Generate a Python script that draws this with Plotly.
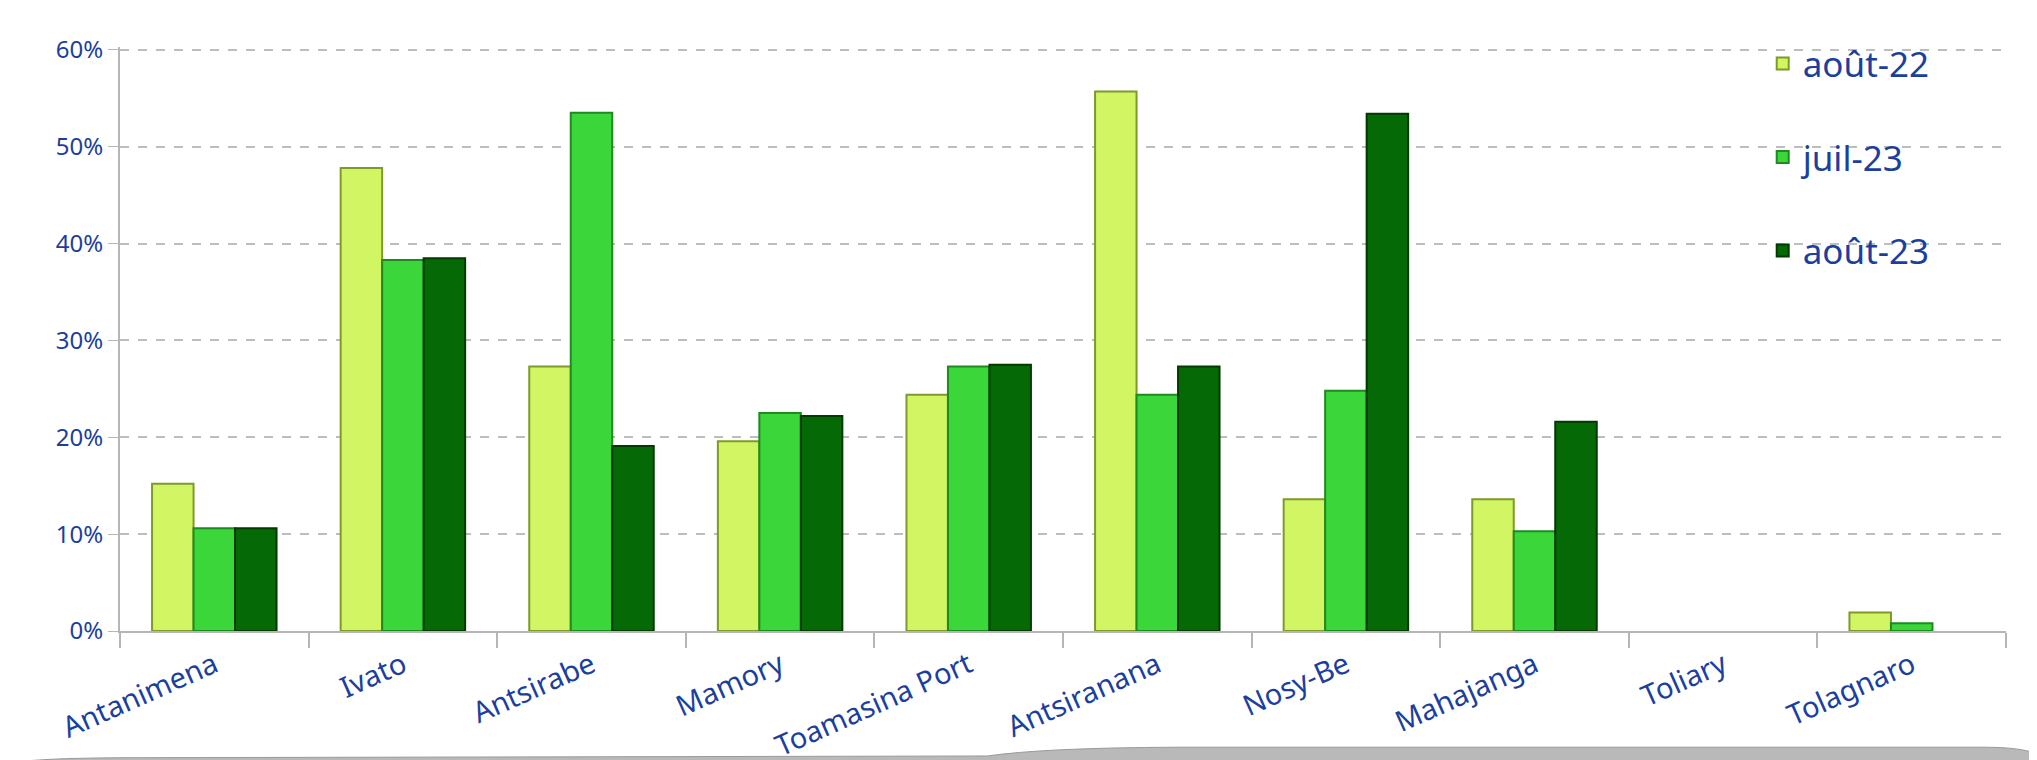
import plotly.graph_objects as go

categories = ["Antanimena", "Ivato", "Antsirabe", "Mamory", "Toamasina Port",
              "Antsiranana", "Nosy-Be", "Mahajanga", "Toliary", "Tolagnaro"]
aout22 = [0.152, 0.478, 0.273, 0.196, 0.244, 0.557, 0.136, 0.136, None, 0.019]
juil23 = [0.106, 0.383, 0.535, 0.225, 0.273, 0.244, 0.248, 0.103, None, 0.008]
aout23 = [0.106, 0.385, 0.191, 0.222, 0.275, 0.273, 0.534, 0.216, None, None]
series_names = ["août-22", "juil-23", "août-23"]
tick_vals = [0, 0.1, 0.2, 0.3, 0.4, 0.5, 0.6]
tick_text = ["0%", "10%", "20%", "30%", "40%", "50%", "60%"]

fills = ["#d2f564", "#3ad63a", "#056a05"]
lines = ["#7d9a2a", "#1f8a1f", "#023a02"]
blue = "#1c3f9e"
font = "Noto Sans"

fig = go.Figure()
for name, vals, fc, lc in zip(series_names, [aout22, juil23, aout23], fills, lines):
    fig.add_trace(go.Bar(
        x=categories, y=vals, name=name, legendgroup=name,
        marker=dict(color=fc, line=dict(color=lc, width=2)),
    ))

fig.update_layout(
    width=2037, height=760,
    margin=dict(l=112, r=39, t=39, b=137, autoexpand=False),
    paper_bgcolor="white", plot_bgcolor="white",
    barmode="group", bargap=0.34, bargroupgap=0.0,
    font=dict(family=font, color=blue),
    showlegend=True,
    legend=dict(x=0.871, y=1.022, xanchor="left", yanchor="top",
                font=dict(size=35, color=blue, family=font),
                bgcolor="rgba(255,255,255,0)", tracegroupgap=45,
                itemwidth=30),
    xaxis=dict(
        type="category", showgrid=False, showline=True, linecolor="#b5b5b5",
        linewidth=2, ticks="outside", tickson="boundaries", ticklen=15,
        tickcolor="#b5b5b5", tickwidth=1.5, tickangle=-24,
        tickfont=dict(size=29, color=blue, family=font),
        ticklabelstandoff=4,
    ),
    yaxis=dict(
        range=[0, 0.603], tickvals=tick_vals, ticktext=tick_text,
        showgrid=True, gridcolor="#bdbdbd", griddash="dash", gridwidth=1.5,
        showline=True, linecolor="#b5b5b5", linewidth=2,
        ticks="outside", ticklen=10, tickcolor="#b5b5b5",
        tickfont=dict(size=24, color=blue, family=font),
        zeroline=False,
    ),
)

# bottom plinth decoration
fig.add_shape(type="path", xref="paper", yref="paper", layer="below",
              path="M -0.06 -0.24 L -0.06 -0.228 Q -0.05 -0.218 0.0 -0.217 L 0.46 -0.214 "
                   "Q 0.49 -0.2 0.56 -0.199 L 0.99 -0.199 Q 1.02 -0.2 1.02 -0.226 L 1.02 -0.24 Z",
              fillcolor="#b9b9b9", line=dict(color="#9a9a9a", width=1))

fig.write_html("out.html")
